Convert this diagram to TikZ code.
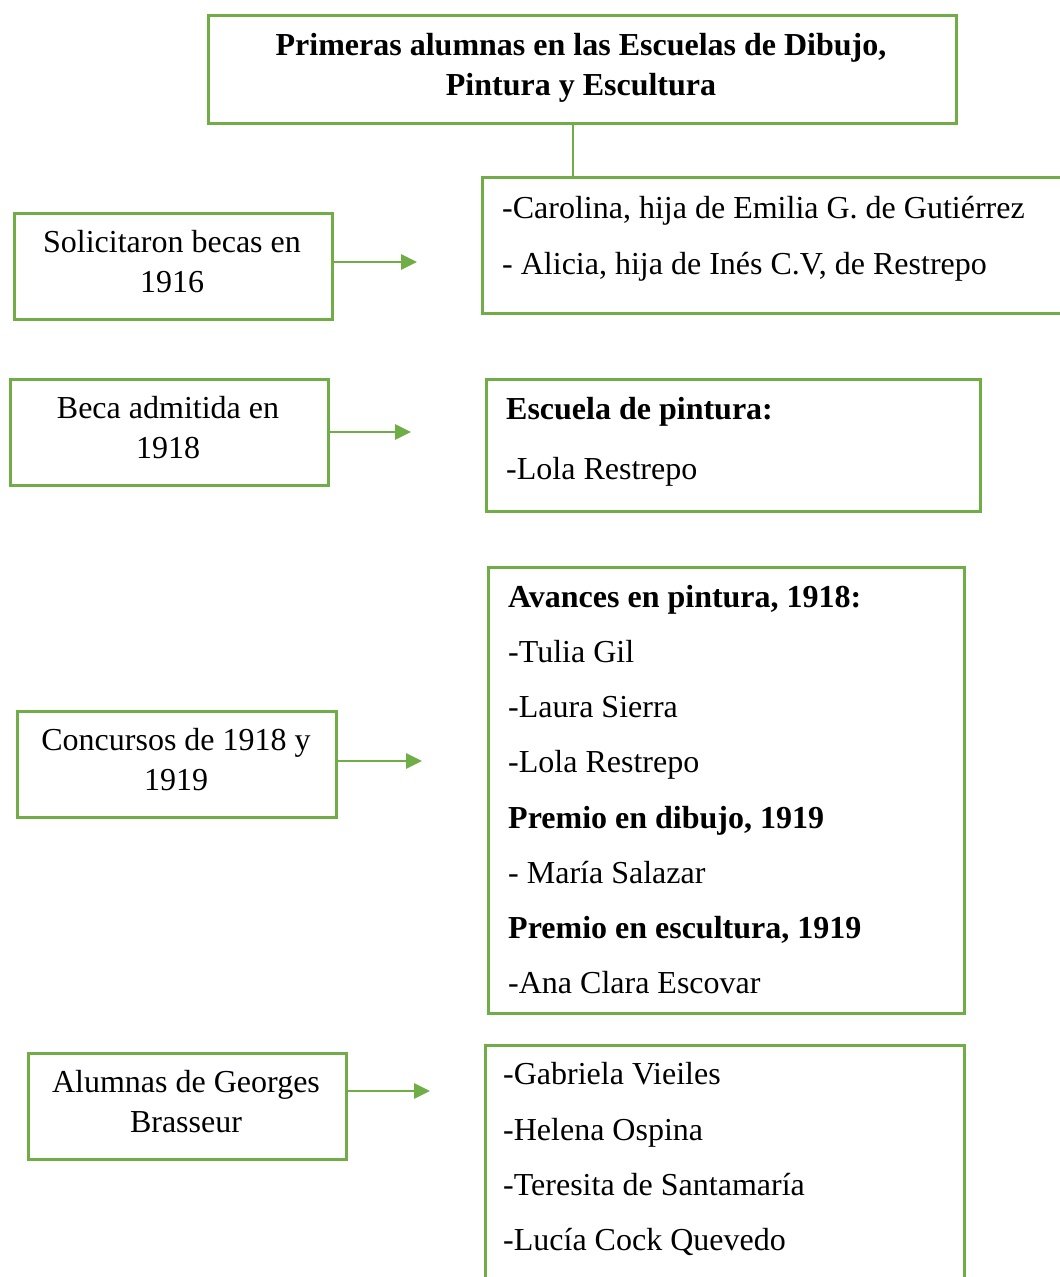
\documentclass[tikz,border=0pt]{standalone}
\usepackage{fontspec}
\setmainfont{Liberation Serif}
\usetikzlibrary{arrows.meta}
\definecolor{grn}{HTML}{70AD47}
\begin{document}
\begin{tikzpicture}[x=1pt,y=-1pt,
  box/.style={draw=grn, line width=2.8pt, inner sep=0pt, anchor=north west},
  txt/.style={font=\fontsize{32}{40}\selectfont, inner sep=0pt, anchor=base},
  ltxt/.style={txt, anchor=base west},
  ttxt/.style={txt, font=\fontsize{32}{40}\selectfont\bfseries},
  btxt/.style={ltxt, font=\fontsize{32}{40}\selectfont\bfseries},
  link/.style={draw=grn, line width=2.8pt},
  arr/.style={draw=grn, line width=2.8pt, -{Triangle[length=16pt,width=15pt]}}]
\useasboundingbox (0,0) rectangle (1060,1277);

% boxes
\node[box, minimum width=748pt, minimum height=108pt] (T) at (207,14) {};
\node[box, minimum width=594pt, minimum height=136pt] (R1) at (481,176) {};
\node[box, minimum width=318pt, minimum height=106pt] (L1) at (13,212) {};
\node[box, minimum width=318pt, minimum height=106pt] (L2) at (9,378) {};
\node[box, minimum width=494pt, minimum height=132pt] (R2) at (485,378) {};
\node[box, minimum width=319pt, minimum height=106pt] (L3) at (16,710) {};
\node[box, minimum width=476pt, minimum height=446pt] (R3) at (487,566) {};
\node[box, minimum width=318pt, minimum height=106pt] (L4) at (27,1052) {};
\node[box, minimum width=479pt, minimum height=251pt] (R4) at (484,1044) {};

% title
\node[ttxt] (t1) at (581,55) {Primeras alumnas en las Escuelas de Dibujo,};
\node[ttxt] (t2) at (581,95) {Pintura y Escultura};

% left texts
\node[txt] (l1a) at (172,252) {Solicitaron becas en};
\node[txt] (l1b) at (172,292) {1916};
\node[txt] (l2a) at (168,418) {Beca admitida en};
\node[txt] (l2b) at (168,458) {1918};
\node[txt] (l3a) at (176,750) {Concursos de 1918 y};
\node[txt] (l3b) at (176,790) {1919};
\node[txt] (l4a) at (186,1092) {Alumnas de Georges};
\node[txt] (l4b) at (186,1132) {Brasseur};

% right texts
\node[ltxt] (r1a) at (502,218) {-Carolina, hija de Emilia G. de Gutiérrez};
\node[ltxt] (r1b) at (502,274) {- Alicia, hija de Inés C.V, de Restrepo};

\node[btxt] (r2a) at (506,419) {Escuela de pintura:};
\node[ltxt] (r2b) at (506,479) {-Lola Restrepo};

\node[btxt] (r3a) at (508,607) {Avances en pintura, 1918:};
\node[ltxt] (r3b) at (508,662) {-Tulia Gil};
\node[ltxt] (r3c) at (508,717) {-Laura Sierra};
\node[ltxt] (r3d) at (508,772) {-Lola Restrepo};
\node[btxt] (r3e) at (508,828) {Premio en dibujo, 1919};
\node[ltxt] (r3f) at (508,883) {- María Salazar};
\node[btxt] (r3g) at (508,938) {Premio en escultura, 1919};
\node[ltxt] (r3h) at (508,993) {-Ana Clara Escovar};

\node[ltxt] (r4a) at (503,1084) {-Gabriela Vieiles};
\node[ltxt] (r4b) at (503,1140) {-Helena Ospina};
\node[ltxt] (r4c) at (503,1195) {-Teresita de Santamaría};
\node[ltxt] (r4d) at (503,1250) {-Lucía Cock Quevedo};

% connectors
\coordinate (c) at (573,0);
\draw[link] (T.south -| c) -- (R1.north -| c);

\coordinate (a1) at (417,262);
\coordinate (a2) at (411,432);
\coordinate (a3) at (422,761);
\coordinate (a4) at (430,1091);
\draw[arr] (L1.east |- a1) -- (a1);
\draw[arr] (L2.east |- a2) -- (a2);
\draw[arr] (L3.east |- a3) -- (a3);
\draw[arr] (L4.east |- a4) -- (a4);
\end{tikzpicture}
\end{document}
